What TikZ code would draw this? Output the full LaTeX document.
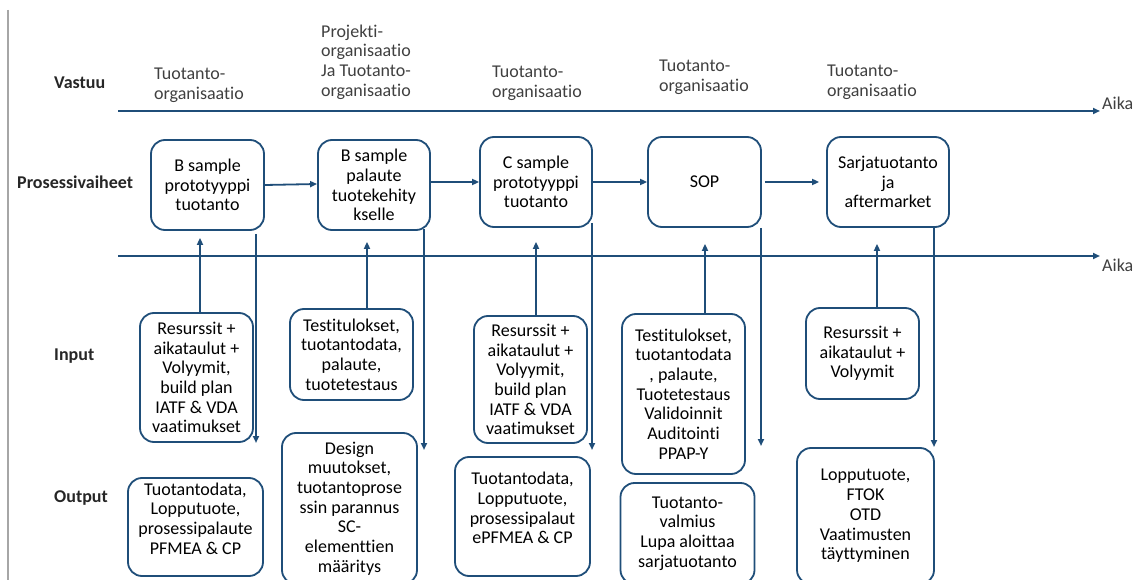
\documentclass[tikz,border=0pt]{standalone}
\usepackage{fontspec}
\setmainfont{Carlito}[Ligatures=NoCommon]
\usetikzlibrary{arrows.meta,calc}
\definecolor{lineblue}{HTML}{1F4E79}
\definecolor{txtgray}{HTML}{404040}
\definecolor{lblgray}{HTML}{262626}
\definecolor{leftgray}{HTML}{A6A6A6}
\tikzset{
  boxnode/.style={draw=lineblue, line width=1.8pt, rounded corners=14pt, inner sep=0pt,
    align=center, text=black, font=\fontsize{18}{19.7}\selectfont},
  txtnode/.style={inner sep=0pt, align=center, text=black, font=\fontsize{18}{19.7}\selectfont},
  resp/.style={inner sep=0pt, align=left, anchor=west, text=txtgray, font=\fontsize{18}{19.7}\selectfont},
  rowlabel/.style={inner sep=0pt, anchor=west, text=lblgray, font=\fontsize{18}{20}\selectfont\bfseries},
  aikalabel/.style={inner sep=0pt, anchor=west, text=txtgray, font=\fontsize{18}{20}\selectfont},
  axis/.style={draw=lineblue, line width=2pt, -{Triangle[length=7pt,width=6pt]}},
  flow/.style={draw=lineblue, line width=1.8pt, -{Triangle[length=7pt,width=6pt]}},
}
\begin{document}
\begin{tikzpicture}[x=1pt,y=-1pt]
\useasboundingbox (0,0) rectangle (1144,580);
\clip (0,0) rectangle (1144,580);
\fill[white] (0,0) rectangle (1144,580);

% left gray rule
\coordinate (gtop) at (8,10);
\coordinate (gbot) at (8,580);
\draw[leftgray, line width=1.5pt] (gtop) -- (gbot);

% row labels
\node[rowlabel] (lvastuu) at (54,83) {Vastuu};
\node[rowlabel] (lproc) at (17,182) {Prosessivaiheet};
\node[rowlabel] (linput) at (54,356) {Input};
\node[rowlabel] (loutput) at (54,498) {Output};

% time axes
\coordinate (ax1s) at (118,111);
\coordinate (ax1e) at (1100,111);
\coordinate (ax2s) at (118,256);
\coordinate (ax2e) at (1100,256);
\draw[axis] (ax1s) -- (ax1e);
\draw[axis] (ax2s) -- (ax2e);
\node[aikalabel] (aika1) at (1102,103) {Aika};
\node[aikalabel] (aika2) at (1102,265) {Aika};

% responsibility texts
\node[resp] (v1) at (154,85) {Tuotanto-\\organisaatio};
\node[resp] (v2) at (321,62) {Projekti-\\organisaatio\\Ja Tuotanto-\\organisaatio};
\node[resp] (v3) at (492,83) {Tuotanto-\\organisaatio};
\node[resp] (v4) at (659,77) {Tuotanto-\\organisaatio};
\node[resp] (v5) at (827,82) {Tuotanto-\\organisaatio};

% process boxes
\node[boxnode, minimum width=113pt, minimum height=90pt] (b1) at (207.5,185) {B sample\\prototyyppi\\tuotanto};
\node[boxnode, minimum width=112pt, minimum height=90pt] (b2) at (374,185) {B sample\\palaute\\tuotekehity\\kselle};
\node[boxnode, minimum width=112pt, minimum height=90pt] (b3) at (536,182) {C sample\\prototyyppi\\tuotanto};
\node[boxnode, minimum width=113pt, minimum height=90pt] (sop) at (704.5,182) {SOP};
\node[boxnode, minimum width=122pt, minimum height=90pt] (b5) at (888,182) {Sarjatuotanto\\ja\\aftermarket};

% arrows between process boxes
\draw[flow] (b1.east) -- ([yshift=1pt]b2.west);
\draw[flow] (b2.east |- 0,182) -- (b3.west |- 0,182);
\draw[flow, line width=2.4pt] ([xshift=-2pt]b3.east) -- (sop.west);
\draw[flow, shorten <=3pt, shorten >=7pt] (sop.east) -- (b5.west);

% input boxes
\node[boxnode, minimum width=113pt, minimum height=129pt] (i1) at (196.5,377.5) {Resurssit +\\aikataulut +\\Volyymit,\\build plan\\IATF \& VDA\\vaatimukset};
\node[boxnode, minimum width=123pt, minimum height=91pt] (i2) at (351.5,354.5) {Testitulokset,\\tuotantodata,\\palaute,\\tuotetestaus};
\node[boxnode, minimum width=113pt, minimum height=127pt] (i3) at (530.5,379.5) {Resurssit +\\aikataulut +\\Volyymit,\\build plan\\IATF \& VDA\\vaatimukset};
\node[boxnode, minimum width=123pt, minimum height=160pt] (i4) at (683.5,394) {Testitulokset,\\tuotantodata\\, palaute,\\Tuotetestaus\\Validoinnit\\Auditointi\\PPAP-Y};
\node[boxnode, minimum width=113pt, minimum height=91pt] (i5) at (862.5,353.5) {Resurssit +\\aikataulut +\\Volyymit};

% input arrows (up, ending just below process box)
\coordinate (xi1) at (200,0);
\coordinate (xi2) at (367,0);
\coordinate (xi3) at (536,0);
\coordinate (xi4) at (705,0);
\coordinate (xi5) at (877,0);
\draw[flow, shorten >=7pt] (i1.north -| xi1) -- (b1.south -| xi1);
\draw[flow, shorten >=11pt] (i2.north -| xi2) -- (b2.south -| xi2);
\draw[flow, shorten >=14pt] (i3.north -| xi3) -- (b3.south -| xi3);
\draw[flow, shorten >=16pt] (i4.north -| xi4) -- (sop.south -| xi4);
\draw[flow, shorten >=16pt] (i5.north -| xi5) -- (b5.south -| xi5);

% output arrows (down, free ends above output boxes)
\coordinate (oe1) at (256,443);
\coordinate (oe2) at (424,450);
\coordinate (oe3) at (592,450);
\coordinate (oe4) at (761,446);
\coordinate (oe5) at (934,447);
\draw[flow] ([yshift=-3pt]b1.south -| oe1) -- (oe1);
\draw[flow] ([yshift=2pt]b2.south -| oe2) -- (oe2);
\draw[flow] ([yshift=5pt]b3.south -| oe3) -- (oe3);
\draw[flow] (sop.south -| oe4) -- (oe4);
\draw[flow] (b5.south -| oe5) -- (oe5);

% output boxes
\node[boxnode, minimum width=135pt, minimum height=98pt] (o1) at (195.5,527) {};
\node[txtnode] (o1t) at (195.5,518.5) {Tuotantodata,\\Lopputuote,\\prosessipalaute\\PFMEA \& CP};
\node[boxnode, minimum width=135pt, minimum height=151pt] (o2) at (349.5,508.5) {Design\\muutokset,\\tuotantoprose\\ssin parannus\\SC-\\elementtien\\määritys};
\node[boxnode, minimum width=135pt, minimum height=119pt] (o3) at (522.5,516.5) {};
\node[txtnode] (o3t) at (522.5,508) {Tuotantodata,\\Lopputuote,\\prosessipalaut\\ePFMEA \& CP};
\node[boxnode, minimum width=134pt, minimum height=101pt] (o4) at (687.5,533.5) {Tuotanto-\\valmius\\Lupa aloittaa\\sarjatuotanto};
\node[boxnode, minimum width=137pt, minimum height=136pt] (o5) at (865.5,516) {Lopputuote,\\FTOK\\OTD\\Vaatimusten\\täyttyminen};
\end{tikzpicture}
\end{document}
